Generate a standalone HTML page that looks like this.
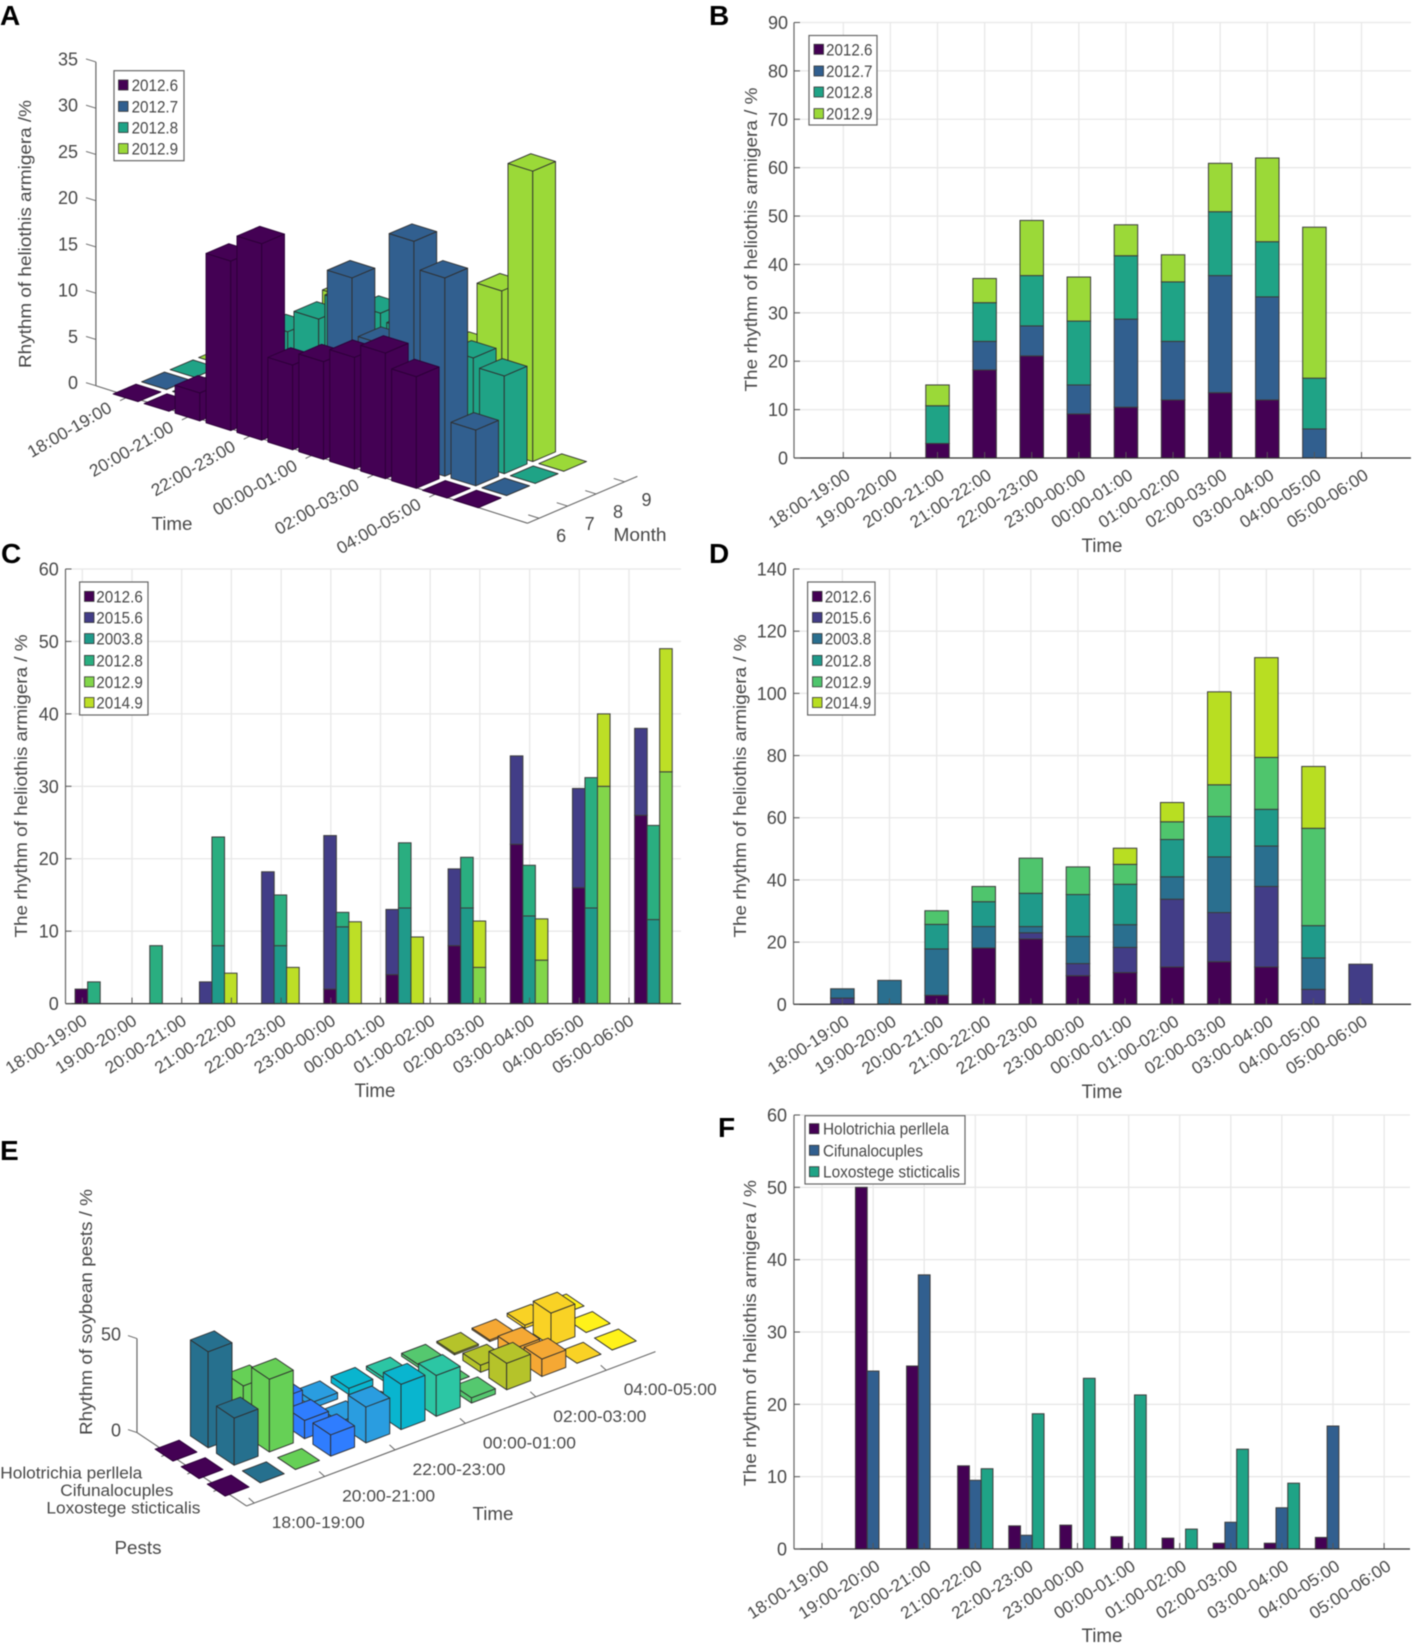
<!DOCTYPE html>
<html lang="en">
<head>
<meta charset="utf-8">
<title>Rhythm of pests, panels A to F</title>
<style>
html,body{margin:0;padding:0;background:#fff;width:1418px;height:1648px;overflow:hidden}
svg{display:block;filter:blur(.4px)}
text{font-family:"Liberation Sans",sans-serif;fill:#484848}
.panel-letter{font-weight:bold;font-size:28px;fill:#000}
</style>
</head>
<body>
<svg id="fig" xmlns="http://www.w3.org/2000/svg" width="1418" height="1648" viewBox="0 0 1418 1648">
  <rect width="1418" height="1648" fill="#fff"/>
  <g id="pA"></g>
  <g id="pB"></g>
  <g id="pC"></g>
  <g id="pD"></g>
  <g id="pE"></g>
  <g id="pF"></g>
  <text class="panel-letter" x="0" y="25">A</text>
  <text class="panel-letter" x="709" y="25">B</text>
  <text class="panel-letter" x="1" y="563">C</text>
  <text class="panel-letter" x="709" y="563">D</text>
  <text class="panel-letter" x="0" y="1160">E</text>
  <text class="panel-letter" x="718" y="1137">F</text>
</svg>
<script>
// ---------- shared categories ----------
const timeLabels = ['18:00-19:00','19:00-20:00','20:00-21:00','21:00-22:00','22:00-23:00','23:00-00:00','00:00-01:00','01:00-02:00','02:00-03:00','03:00-04:00','04:00-05:00','05:00-06:00'];
const timeLabelsEveryOther = ['18:00-19:00','20:00-21:00','22:00-23:00','00:00-01:00','02:00-03:00','04:00-05:00'];

// ---------- panel A ----------
const aMonths = ['6','7','8','9'];
const aLegend = ['2012.6','2012.7','2012.8','2012.9'];
const aTicks = [0,5,10,15,20,25,30,35];
const aJun = [0,0,3,18.2,21.1,9.1,10.5,12,13.5,12,0,0];
const aJul = [0,0,0,5.9,6.2,6,18.2,12.1,24.2,21.3,6,0];
const aAug = [0,0,7.8,8,10.4,13.2,13.1,12.3,13.2,11.4,10.5,0];
const aSep = [0,0,4.3,5,11.4,9.1,6.4,5.6,10,17.3,31.2,0];

// ---------- panel B ----------
const bLegend = ['2012.6','2012.7','2012.8','2012.9'];
const bTicks = [0,10,20,30,40,50,60,70,80,90];
const bJun = [0,0,3,18.2,21.1,9.1,10.5,12,13.5,12,0,0];
const bJul = [0,0,0,5.9,6.2,6,18.2,12.1,24.2,21.3,6,0];
const bAug = [0,0,7.8,8,10.4,13.2,13.1,12.3,13.2,11.4,10.5,0];
const bSep = [0,0,4.3,5,11.4,9.1,6.4,5.6,10,17.3,31.2,0];

// ---------- panel C ----------
const cLegend = ['2012.6','2015.6','2003.8','2012.8','2012.9','2014.9'];
const cTicks = [0,10,20,30,40,50,60];
const c2012_6 = [2,0,0,0,2,4,8,22,16,26];
const c2015_6 = [0,0,3,18.2,21.2,9,10.6,12.2,13.7,12];
const c2003_8 = [0,0,8,8,10.6,13.2,13.2,12.1,13.2,11.6];
const c2012_8 = [3,8,15,7,2,9,7,7,18,13];
const c2012_9 = [0,0,0,0,0,0,5,6,30,32];
const c2014_9 = [0,0,4.2,5,11.3,9.2,6.4,5.7,10,17];

// ---------- panel D ----------
const dLegend = ['2012.6','2015.6','2003.8','2012.8','2012.9','2014.9'];
const dTicks = [0,20,40,60,80,100,120,140];
const d2012_6 = [0,0,2.9,18.1,21,9.2,10.2,12,13.7,12,0,0];
const d2015_6 = [2,0,0,0,2,3.9,8.1,21.8,15.8,25.9,4.8,12.9];
const d2003_8 = [3,7.7,14.9,6.9,2,8.7,7.3,7.2,17.9,13,10.1,0];
const d2012_8 = [0,0,7.9,8,10.7,13.5,13,12,13,11.8,10.4,0];
const d2012_9 = [0,0,4.4,4.9,11.3,8.9,6.4,5.7,10.2,16.7,31.3,0];
const d2014_9 = [0,0,0,0,0,0,5.2,6.2,29.9,32.1,19.9,0];

// ---------- panel E ----------
const ePests = ['Holotrichia perllela','Cifunalocuples','Loxostege sticticalis'];
const eTicks = [0,50];
const eHolo = [0,50,25.3,11.5,3.2,3.3,1.7,1.5,0.8,0.8,1.6,0];
const eCifu = [0,24.6,37.9,9.5,1.9,0,0,0,3.7,5.7,17,0];
const eLoxo = [0,0,0,11.1,18.7,23.6,21.3,2.75,13.8,9.1,0,0];

// ---------- panel F ----------
const fLegend = ['Holotrichia perllela','Cifunalocuples','Loxostege sticticalis'];
const fTicks = [0,10,20,30,40,50,60];
const fHolo = [0,50,25.3,11.5,3.2,3.3,1.7,1.5,0.8,0.8,1.6,0];
const fCifu = [0,24.6,37.9,9.5,1.9,0,0,0,3.7,5.7,17,0];
const fLoxo = [0,0,0,11.1,18.7,23.6,21.3,2.75,13.8,9.1,0,0];

// ---------- colours ----------
const colors4 = ['#440154','#315f8f','#1fa386','#9bd938'];
const colorsC = ['#440154','#423d87','#1f9a8a','#2aae80','#82d64a','#bddf26'];
const colorsD = ['#440154','#423d87','#2a6f8f','#1f9a8a','#4fc56d','#b8de22'];
const colorsF = ['#440154','#315f8f','#1fa386'];
const colorsE = ['#440154','#26708e','#66d056','#2f7dff','#2a9de0','#09b5cf','#2cc6a4','#55c86f','#b5c32a','#f5a834','#f9d225','#fff21a'];

const NS = 'http://www.w3.org/2000/svg';
function mk(tag, parent, name) {
  const el = document.createElementNS(NS, tag);
  
  
  parent.appendChild(el);
  return el;
}
function line(parent, name, x1, y1, x2, y2, stroke, w) {
  const el = mk('line', parent, name);
  el.setAttribute('x1', x1);
  el.setAttribute('y1', y1);
  el.setAttribute('x2', x2);
  el.setAttribute('y2', y2);
  el.setAttribute('stroke', stroke);
  el.setAttribute('stroke-width', w);
  return el;
}
function label(parent, name, x, y, str, size, anchor, rot, len) {
  const el = mk('text', parent, name);
  el.setAttribute('x', x);
  el.setAttribute('y', y);
  el.setAttribute('font-size', size);
  el.setAttribute('text-anchor', anchor);
  if (rot) el.setAttribute('transform', 'rotate(' + rot + ' ' + x + ' ' + y + ')');
  if (len) {
    el.setAttribute('textLength', len);
    el.setAttribute('lengthAdjust', 'spacingAndGlyphs');
  }
  el.textContent = str;
  return el;
}
function legend(parent, box, names, colors, rows, swX, txX, txLens) {
  const g = mk('g', parent, 'legend');
  const r = mk('rect', g, 'legend-box');
  r.setAttribute('x', box[0]);
  r.setAttribute('y', box[1]);
  r.setAttribute('width', box[2]);
  r.setAttribute('height', box[3]);
  r.setAttribute('fill', '#fff');
  r.setAttribute('stroke', '#666');
  r.setAttribute('stroke-width', 1.2);
  names.forEach(function (n, i) {
    const s = mk('rect', g, 'legend-swatch');
    s.setAttribute('x', swX);
    s.setAttribute('y', rows[i] - 5);
    s.setAttribute('width', 9.5);
    s.setAttribute('height', 10);
    s.setAttribute('fill', colors[i]);
    s.setAttribute('stroke', '#333');
    s.setAttribute('stroke-width', 0.8);
    label(g, 'legend-entry', txX, rows[i] + 6, n, 16.5, 'start', 0, txLens ? txLens[i] : 46.5);
  });
}
function edgeColor(fill) {
  return fill === '#440154' ? '#2b0036' : '#2e2e2e';
}

// ---------- 2D chart drawing ----------
function drawChart(p, c) {
  const y = function (v) { return c.y0 - (v / c.yMax) * (c.y0 - c.yTop); };
  c.ticks.forEach(function (v) {
    line(p, 'y-gridline', c.left, y(v), c.right, y(v), '#e8e8e8', 1.3);
  });
  c.labels.forEach(function (t, k) {
    line(p, 'x-gridline', c.tickX(k), c.yTop, c.tickX(k), c.y0, '#e8e8e8', 1.3);
  });
  const n = c.series[0].length;
  for (let g = 0; g < n; g++) {
    const base = {};
    c.series.forEach(function (vals, s) {
      const col = c.cols[s];
      const b = base[col] || 0;
      const top = b + vals[g];
      const r = mk('rect', p, 'bar-segment');
      
      r.setAttribute('x', c.barX(g, col) - c.barW / 2);
      r.setAttribute('y', y(top));
      r.setAttribute('width', c.barW);
      r.setAttribute('height', y(b) - y(top));
      r.setAttribute('fill', c.colors[s]);
      r.setAttribute('stroke', '#3c3c3c');
      r.setAttribute('stroke-width', 1);
      base[col] = top;
    });
  }
  line(p, 'y-axis-line', c.left, c.yTop, c.left, c.y0, '#666', 1.2);
  line(p, 'x-axis-line', c.left, c.y0, c.right, c.y0, '#333', 1.3);
  c.ticks.forEach(function (v) {
    line(p, 'y-tick', c.left, y(v), c.left + 6, y(v), '#555', 1);
    label(p, 'y-tick-label', c.tickLabelX, y(v) + 6.5, String(v), 18, 'end', 0, 0);
  });
  c.labels.forEach(function (t, k) {
    line(p, 'x-tick', c.tickX(k), c.y0, c.tickX(k), c.y0 - 6, '#555', 1);
    label(p, 'x-tick-label', c.tickX(k) + c.lblDx, c.y0 + 20, t, 17, 'end', -33, 93);
  });
  label(p, 'y-axis-title', c.yTitleX, c.yTitleY, c.yTitle, 17.5, 'middle', -90, c.yTitleLen);
  label(p, 'x-axis-title', c.xTitleX, c.xTitleY, 'Time', 19, 'middle', 0, 41);
  legend(p, c.lBox, c.names, c.colors, c.lRows, c.lSw, c.lTx, c.lLens);
}

drawChart(document.getElementById('pB'), {
  y0: 458, yTop: 22.5, yMax: 90, left: 794, right: 1411, ticks: bTicks, labels: timeLabels,
  tickX: function (k) { return 843.3 + 47.11 * k; },
  barX: function (g) { return 843.3 + 47.11 * g; },
  barW: 23.5, series: [bJun, bJul, bAug, bSep], cols: [0, 0, 0, 0], names: bLegend, colors: colors4,
  tickLabelX: 788, lblDx: 8, yTitle: 'The rhythm of heliothis armigera / %', yTitleX: 757, yTitleY: 239.5, yTitleLen: 304,
  xTitleX: 1102, xTitleY: 552,
  lBox: [809, 35.5, 68, 89.5], lRows: [49.3, 71, 92, 113.6], lSw: 814, lTx: 826
});

drawChart(document.getElementById('pC'), {
  y0: 1003.6, yTop: 569, yMax: 60, left: 65.5, right: 681, ticks: cTicks, labels: timeLabels,
  tickX: function (k) { return 82.3 + 49.7 * k; },
  barX: function (g, col) { return 81.4 + 62.17 * g + 12.5 * col; },
  barW: 12.6, series: [c2012_6, c2015_6, c2003_8, c2012_8, c2012_9, c2014_9], cols: [0, 0, 1, 1, 2, 2], names: cLegend, colors: colorsC,
  tickLabelX: 58.8, lblDx: 6, yTitle: 'The rhythm of heliothis armigera / %', yTitleX: 27, yTitleY: 786, yTitleLen: 303,
  xTitleX: 375, xTitleY: 1097,
  lBox: [79.6, 582, 68.4, 133], lRows: [596.4, 617.5, 638.6, 660.4, 681.8, 702.5], lSw: 84.5, lTx: 96.3
});

drawChart(document.getElementById('pD'), {
  y0: 1004.3, yTop: 569, yMax: 140, left: 793.5, right: 1411, ticks: dTicks, labels: timeLabels,
  tickX: function (k) { return 842.4 + 47.11 * k; },
  barX: function (g) { return 842.4 + 47.11 * g; },
  barW: 23.5, series: [d2012_6, d2015_6, d2003_8, d2012_8, d2012_9, d2014_9], cols: [0, 0, 0, 0, 0, 0], names: dLegend, colors: colorsD,
  tickLabelX: 786.8, lblDx: 8, yTitle: 'The rhythm of heliothis armigera / %', yTitleX: 746, yTitleY: 786, yTitleLen: 303,
  xTitleX: 1102, xTitleY: 1098,
  lBox: [807.6, 582, 67.4, 133], lRows: [596.4, 617.5, 638.6, 660.4, 681.8, 702.5], lSw: 812.5, lTx: 824.7
});

drawChart(document.getElementById('pF'), {
  y0: 1549, yTop: 1115, yMax: 60, left: 794, right: 1410, ticks: fTicks, labels: timeLabels,
  tickX: function (k) { return 822 + 51.1 * k; },
  barX: function (g, col) { return 822 + 51.1 * g + (col - 1) * 11.76; },
  barW: 11.76, series: [fHolo, fCifu, fLoxo], cols: [0, 1, 2], names: fLegend, colors: colorsF,
  tickLabelX: 787, lblDx: 8, yTitle: 'The rhythm of heliothis armigera / %', yTitleX: 756, yTitleY: 1333, yTitleLen: 306,
  xTitleX: 1102, xTitleY: 1642,
  lBox: [805, 1115.7, 160, 68.3], lRows: [1128.7, 1150.3, 1171.7], lSw: 809.4, lTx: 823, lLens: [126, 100, 137]
});

// ---------- 3D bar drawing ----------
function poly(parent, name, pts, fill) {
  const el = mk('polygon', parent, name);
  el.setAttribute('points', pts.map(function (q) { return q[0].toFixed(2) + ',' + q[1].toFixed(2); }).join(' '));
  el.setAttribute('fill', fill);
  el.setAttribute('stroke', edgeColor(fill));
  el.setAttribute('stroke-width', 0.9);
  el.setAttribute('stroke-linejoin', 'round');
  return el;
}

// Panel A projection: t = time index, m = month index, z = value
const pA = document.getElementById('pA');
function aP(t, m, z) {
  return [137 + 30.93 * t + 28.49 * m, 392.9 + 9.64 * t - 12.14 * m - 9.31 * z];
}
const aSeries = [aJun, aJul, aAug, aSep];
function aTickY(v) {
  return 385.7 - 9.25 * v;
}
line(pA, 'z-axis-line', 95.9, aTickY(35), 95.9, aTickY(0), '#666', 1.2);
line(pA, 'time-axis-line', aP(-1.08, -0.27, 0)[0], aP(-1.08, -0.27, 0)[1], aP(13, -0.41, 0)[0], aP(13, -0.41, 0)[1], '#666', 1.1);
line(pA, 'month-axis-line', aP(13, -0.41, 0)[0], aP(13, -0.41, 0)[1], aP(13, 3.45, 0)[0], aP(13, 3.45, 0)[1], '#666', 1.1);
aTicks.forEach(function (v) {
  line(pA, 'z-tick', 86, aTickY(v) - 3, 95.9, aTickY(v), '#666', 1);
  label(pA, 'z-tick-label', 78, aTickY(v) + 3.5, String(v), 18, 'end', 0, 0);
});
timeLabelsEveryOther.forEach(function (t, i) {
  const q = aP(i * 2, -0.35, 0);
  line(pA, 'time-tick', q[0], q[1], q[0] - 7, q[1] + 3.5, '#666', 1);
  label(pA, 'time-tick-label', q[0] - 14, q[1] + 14, t, 17, 'end', -30, 94);
});
aMonths.forEach(function (t, m) {
  const q = aP(13, m, 0);
  const q2 = aP(12.65, m, 0);
  line(pA, 'month-tick', q2[0], q2[1], q[0], q[1], '#666', 1);
  label(pA, 'month-tick-label', q[0] + 22, q[1] + 24, t, 18, 'middle', 0, 0);
});
label(pA, 'x-axis-title-time', 172, 530, 'Time', 18, 'middle', 0, 41);
label(pA, 'y-axis-title-month', 640, 541, 'Month', 18, 'middle', 0, 53);
label(pA, 'z-axis-title', 31, 234, 'Rhythm of heliothis armigera /%', 17.5, 'middle', -90, 268);
const aHalf = 0.4;
for (let m = aSeries.length - 1; m >= 0; m--) {
  for (let t = 0; t < timeLabels.length; t++) {
    const v = aSeries[m][t];
    const g = mk('g', pA, 'bar3d');
    
    const h = aHalf;
    poly(g, 'bar-left-face', [aP(t - h, m - h, 0), aP(t + h, m - h, 0), aP(t + h, m - h, v), aP(t - h, m - h, v)], colors4[m]);
    poly(g, 'bar-right-face', [aP(t + h, m - h, 0), aP(t + h, m + h, 0), aP(t + h, m + h, v), aP(t + h, m - h, v)], colors4[m]);
    poly(g, 'bar-top-face', [aP(t - h, m - h, v), aP(t + h, m - h, v), aP(t + h, m + h, v), aP(t - h, m + h, v)], colors4[m]);
  }
}
legend(pA, [114, 70.7, 70, 90], aLegend, colors4, [85, 106.4, 127.5, 148.6], 118.5, 131.6);

// Panel E projection: t = time index, p = pest index, z = value
const pE = document.getElementById('pE');
function eP(t, p, z) {
  return [176 + 35.2 * t + 26.07 * p, 1450.6 - 13.28 * t + 17.48 * p - 1.92 * z];
}
const eSeries = [eHolo, eCifu, eLoxo];
const eO = eP(-0.22, -1.2, 0);
const eC = eP(-0.22, 3, 0);
const eR = eP(11.4, 3, 0);
line(pE, 'z-axis-line', eO[0], eP(-0.22, -1.2, 50)[1] + 2, eO[0], eO[1], '#666', 1.2);
line(pE, 'pest-axis-line', eO[0], eO[1], eC[0], eC[1], '#666', 1.1);
line(pE, 'time-axis-line', eC[0], eC[1], eR[0], eR[1], '#666', 1.1);
eTicks.forEach(function (v) {
  const q = eP(-0.22, -1.2, v);
  line(pE, 'z-tick', q[0] - 9, q[1] - 3 + v * 0.04, q[0], q[1] + v * 0.04, '#666', 1);
  label(pE, 'z-tick-label', 121, q[1] + 4, String(v), 18, 'end', 0, 0);
});
ePests.forEach(function (t, i) {
  const q = eP(-0.22, i, 0);
  line(pE, 'pest-tick', q[0], q[1], q[0] - 7, q[1] + 3, '#666', 1);
  label(pE, 'pest-tick-label', q[0] - [26, 21, 20][i], q[1] + 25, t, 17, 'end', 0, [142, 113, 154][i]);
});
timeLabelsEveryOther.forEach(function (t, i) {
  const q = eP(i * 2, 3, 0);
  line(pE, 'time-tick', q[0], q[1], q[0] - 5.5, q[1] - 5, '#666', 1);
  label(pE, 'time-tick-label', q[0] + 64, q[1] + 25, t, 17, 'middle', 0, 93);
});
label(pE, 'x-axis-title-time', 493, 1520, 'Time', 18, 'middle', 0, 41);
label(pE, 'y-axis-title-pests', 138, 1554, 'Pests', 18, 'middle', 0, 47);
label(pE, 'z-axis-title', 92, 1312, 'Rhythm of soybean pests / %', 17.5, 'middle', -90, 246);
const eHalf = 0.34;
for (let t = timeLabels.length - 1; t >= 0; t--) {
  for (let p = 0; p < eSeries.length; p++) {
    const v = eSeries[p][t];
    const g = mk('g', pE, 'bar3d');
    
    const h = eHalf;
    poly(g, 'bar-left-face', [eP(t - h, p - h, 0), eP(t - h, p + h, 0), eP(t - h, p + h, v), eP(t - h, p - h, v)], colorsE[t]);
    poly(g, 'bar-right-face', [eP(t - h, p + h, 0), eP(t + h, p + h, 0), eP(t + h, p + h, v), eP(t - h, p + h, v)], colorsE[t]);
    poly(g, 'bar-top-face', [eP(t - h, p - h, v), eP(t - h, p + h, v), eP(t + h, p + h, v), eP(t + h, p - h, v)], colorsE[t]);
  }
}
</script>
</body>
</html>
